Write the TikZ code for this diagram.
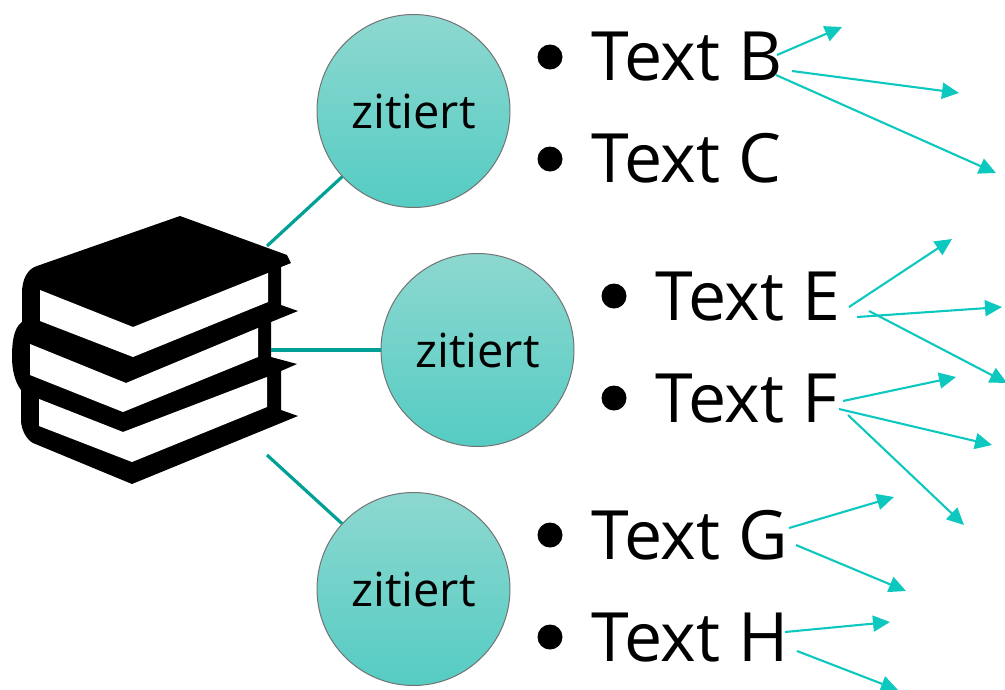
\documentclass[tikz,border=0pt]{standalone}
\usepackage{fontspec}
\setmainfont{Open Sans}
\usetikzlibrary{arrows.meta}
\definecolor{linkteal}{HTML}{00A096}
\definecolor{arrowteal}{HTML}{0CC8BE}
\definecolor{circtop}{HTML}{8DD8D0}
\definecolor{circbot}{HTML}{55CCC3}
\tikzset{
  cite/.style={circle,minimum size=193pt,inner sep=0pt,draw=black!55,line width=1pt,
    top color=circtop,bottom color=circbot,font=\fontsize{47}{47}\selectfont,text=black},
  link/.style={draw=linkteal,line width=3.2pt},
  ref/.style={draw=arrowteal,line width=2.1pt,-{Triangle[length=17pt,width=16pt]}},
  label/.style={anchor=base west,inner sep=0pt,font=\fontsize{68}{68}\selectfont,text=black},
  dot/.style={circle,fill=black,minimum size=25pt,inner sep=0pt}
}
\begin{document}
\begin{tikzpicture}[x=1pt,y=-1pt]
\useasboundingbox (0,0) rectangle (1005,689);
% book
\fill[black] (180,216) -- (287,255) -- (291,263) -- (281,267) -- (281,305) -- (298,311) -- (271,322) -- (271,357) -- (297,364) -- (281,371) -- (281,410) -- (298,416) -- (132,484) -- (33,443) .. controls (27,440) and (21,430) .. (21,420) -- (21,390) .. controls (15,382) and (12,370) .. (12,357) .. controls (12,345) and (13,328) .. (22,322) -- (22,293) .. controls (22,280) and (27,269) .. (37,266) -- cycle;
\fill[white] (40,290) -- (133,327) -- (268,273) -- (268,302) -- (133,357) -- (40,321) -- cycle;
\fill[white] (30,344) -- (126,383) -- (258,328) -- (258,357) -- (123,412) -- (30,375) -- cycle;
\fill[white] (39,399) -- (123,432) -- (267,377) -- (267,407) -- (132,462) -- (39,426) -- cycle;
% circles
\node[cite] (c1) at (413.5,111) {zitiert};
\node[cite] (c2) at (477.5,350) {zitiert};
\node[cite] (c3) at (413.5,589) {zitiert};
\coordinate (b1) at (267,246);
\coordinate (b2) at (271,350);
\coordinate (b3) at (267,455);
\draw[link] (b1) -- (c1);
\draw[link] (b2) -- (c2);
\draw[link] (b3) -- (c3);
% bullets and texts
\node[dot] (d1) at (550,57) {};
\node[dot] (d2) at (550,159) {};
\node[dot] (d3) at (614,296) {};
\node[dot] (d4) at (614,398) {};
\node[dot] (d5) at (550,535) {};
\node[dot] (d6) at (550,637) {};
\node[label] (tb) at (591,80) {Text B};
\node[label] (tc) at (591,182) {Text C};
\node[label] (te) at (655,320) {Text E};
\node[label] (tf) at (655,422) {Text F};
\node[label] (tg) at (591,559) {Text G};
\node[label] (th) at (591,661) {Text H};
% arrows
\foreach \n/\sx/\sy/\ex/\ey in {
 a/777/55/842/27, b/792/71/959/93, c/776/75/996/173,
 d/849/307/952/239, e/857/317/1002/307, f/869/311/1007/383,
 g/843/401/956/377, h/839/409/992/445, i/848/415/964/525,
 j/789/528/894/497, k/796/545/906/591,
 l/785/632/890/622, m/797/651/898/690}{
  \coordinate (s\n) at (\sx,\sy);
  \coordinate (e\n) at (\ex,\ey);
  \draw[ref] (s\n) -- (e\n);
}
\end{tikzpicture}
\end{document}
